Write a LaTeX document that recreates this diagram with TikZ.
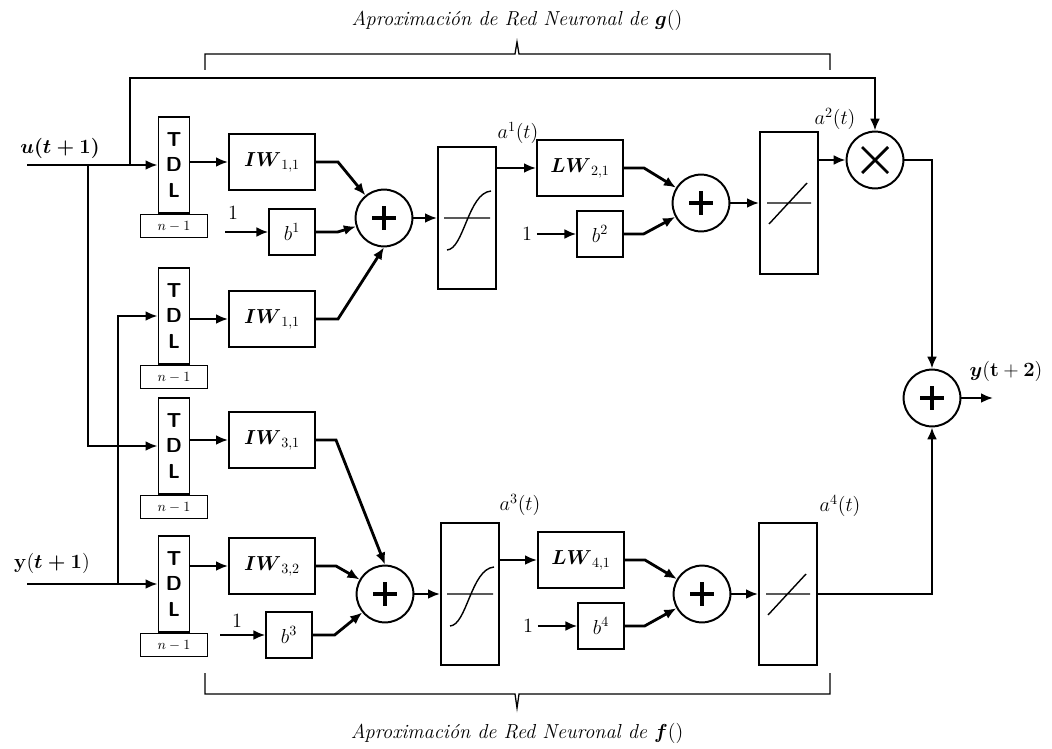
\documentclass[tikz,border=0pt]{standalone}
\usepackage{amsmath,amssymb}
\usepackage{tikz}
\usetikzlibrary{arrows.meta,positioning}

\begin{document}
\begin{tikzpicture}[x=0.025cm,y=-0.025cm,
  tdl/.style={rectangle,draw,line width=1.4pt,minimum width=0.775cm,minimum height=2.4cm,inner sep=0pt,align=center,font=\Large\sffamily\bfseries},
  delay/.style={rectangle,draw,line width=0.9pt,minimum width=1.675cm,minimum height=0.575cm,inner sep=0pt,font=\normalsize},
  wbox/.style={rectangle,draw,line width=1.4pt,minimum width=2.15cm,minimum height=1.4cm,inner sep=0pt,font=\Large},
  bbox/.style={rectangle,draw,line width=1.4pt,minimum size=1.13cm,inner sep=0pt,font=\Large},
  actbox/.style={rectangle,draw,line width=1.4pt,minimum width=1.45cm,minimum height=3.55cm,inner sep=0pt},
  sigm/.style={actbox,path picture={\draw[line width=1pt,shift={(path picture bounding box.center)}] (-23,0) -- (23,0) (-20,32) .. controls (-3,31) and (1,-25) .. (24,-27);}},
  linr/.style={actbox,path picture={\draw[line width=1pt,shift={(path picture bounding box.center)}] (-22,0) -- (22,0) (-20,21) -- (18,-20);}},
  sumnode/.style={circle,draw,line width=1.4pt,minimum size=1.42cm,inner sep=0pt,path picture={\draw[line width=2.6pt,shift={(path picture bounding box.center)}] (-12,0) -- (12,0) (0,-12) -- (0,12);}},
  mulnode/.style={circle,draw,line width=1.4pt,minimum size=1.42cm,inner sep=0pt,path picture={\draw[line width=2pt,shift={(path picture bounding box.center)}] (-13,-13) -- (13,13) (-13,13) -- (13,-13);}},
  arr/.style={-{Latex[length=3mm,width=2.5mm]},line width=2pt},
  brc/.style={line width=0.9pt},
  lbl/.style={font=\Large},
  ttl/.style={font=\Large\itshape}]
  \useasboundingbox (0,0) rectangle (1052,749);

  \node[tdl] (tdl1) at (174,165) {T\\D\\L};
  \node[delay,below=0pt of tdl1] (dly1) {$n-1$};
  \node[tdl] (tdl2) at (174,316) {T\\D\\L};
  \node[delay,below=0pt of tdl2] (dly2) {$n-1$};
  \node[tdl] (tdl3) at (174,446) {T\\D\\L};
  \node[delay,below=0pt of tdl3] (dly3) {$n-1$};
  \node[tdl] (tdl4) at (174,584) {T\\D\\L};
  \node[delay,below=0pt of tdl4] (dly4) {$n-1$};

  \node[wbox] (iw11a) at (272,162) {$\boldsymbol{IW}_{1,1}$};
  \node[bbox] (b1)    at (292,232) {$b^1$};
  \node[wbox] (iw11b) at (272,319) {$\boldsymbol{IW}_{1,1}$};
  \node[wbox] (iw31)  at (272,440) {$\boldsymbol{IW}_{3,1}$};
  \node[wbox] (iw32)  at (272,566) {$\boldsymbol{IW}_{3,2}$};
  \node[bbox] (b3)    at (289,635) {$b^3$};

  \node[sumnode] (sum1) at (384,218) {};
  \node[sigm]    (sig1) at (467,218) {};
  \node[wbox]    (lw21) at (580,168) {$\boldsymbol{LW}_{2,1}$};
  \node[bbox]    (b2)   at (600,234) {$b^2$};
  \node[sumnode] (sum2) at (701,203) {};
  \node[linr]    (lin1) at (789,203) {};
  \node[mulnode] (mul)  at (875,160) {};

  \node[sumnode] (sum3) at (385,594) {};
  \node[sigm]    (sig2) at (470,594) {};
  \node[wbox]    (lw41) at (581,560) {$\boldsymbol{LW}_{4,1}$};
  \node[bbox]    (b4)   at (601,626) {$b^4$};
  \node[sumnode] (sum4) at (702,594) {};
  \node[linr]    (lin2) at (788,594) {};

  \node[sumnode] (sumo) at (932,398) {};

  \coordinate (uin) at (27,165);
  \coordinate (yin) at (27,584);
  \coordinate (j0) at (130,165);
  \coordinate (j1) at (88,165);
  \coordinate (j2) at (118,584);
  \coordinate (ftop) at (130,78);
  \coordinate (yout) at (993,398);
  \coordinate (c1) at (225,232);
  \coordinate (c3) at (220,635);

  \node[lbl] (ulab)  at (60,148)   {$\boldsymbol{u(t+1)}$};
  \node[lbl] (ylab)  at (52,563)   {$\mathbf{y}(\boldsymbol{t+1})$};
  \node[lbl] (yolab) at (1006,371) {$\boldsymbol{y}(\mathbf{t+2})$};
  \node[lbl] (a1lab) at (518,133)  {$a^1(t)$};
  \node[lbl] (a2lab) at (835,119)  {$a^2(t)$};
  \node[lbl] (a3lab) at (520,505)  {$a^3(t)$};
  \node[lbl] (a4lab) at (840,506)  {$a^4(t)$};
  \node[lbl] (one1)  at (233,213)  {$1$};
  \node[lbl] (one2)  at (527,234)  {$1$};
  \node[lbl] (one3)  at (237,621)  {$1$};
  \node[lbl] (one4)  at (528,626)  {$1$};

  \draw[arr] (uin) -- (uin -| tdl1.west);
  \draw[arr] (j1) |- (tdl3.west);
  \draw[arr] (yin) -- (yin -| tdl4.west);
  \draw[arr] (j2) |- (tdl2.west);
  \draw[arr] (j0) -- (ftop) -| (mul.north);

  \draw[arr] (tdl1.east |- iw11a) -- (iw11a);
  \draw[arr] (tdl2.east |- iw11b) -- (iw11b);
  \draw[arr] (tdl3.east |- iw31) -- (iw31);
  \draw[arr] (tdl4.east |- iw32) -- (iw32);
  \draw[arr] (c1) -- (b1);
  \draw[arr] (c3) -- (b3);

  \draw[arr] (iw11a.east) -- ++(22,0) -- (sum1);
  \draw[arr] (b1.east) -- ++(22,0) -- (sum1);
  \draw[arr] (iw11b.east) -- ++(22,0) -- (sum1.south);
  \draw[arr] (sum1) -- (sig1);
  \draw[arr] (sig1.east |- lw21) -- (lw21);
  \draw[arr] (one2) -- (b2);
  \draw[arr] (lw21.east) -- ++(20,0) -- (sum2);
  \draw[arr] (b2.east) -- ++(20,0) -- (sum2);
  \draw[arr] (sum2) -- (lin1);
  \draw[arr] (lin1.east |- mul) -- (mul);
  \draw[arr] (mul.east) -| (sumo.north);

  \draw[arr] (iw31.east) -- ++(20,0) -- (sum3.north);
  \draw[arr] (iw32.east) -- ++(20,0) -- (sum3);
  \draw[arr] (b3.east) -- ++(22,0) -- (sum3);
  \draw[arr] (sum3) -- (sig2);
  \draw[arr] (sig2.east |- lw41) -- (lw41);
  \draw[arr] (one4) -- (b4);
  \draw[arr] (lw41.east) -- ++(20,0) -- (sum4);
  \draw[arr] (b4.east) -- ++(20,0) -- (sum4);
  \draw[arr] (sum4) -- (lin2);
  \draw[arr] (lin2.east) -| (sumo.south);
  \draw[arr] (sumo) -- (yout);

  \draw[brc] (205,70) -- (205,54) -- (515,54) -- (517,42) -- (519,54) -- (830,54) -- (830,70);
  \draw[brc] (205,673) -- (205,694) -- (515,694) -- (517,708) -- (519,694) -- (830,694) -- (830,673);
  \node[ttl] (ttop) at (517,20)  {Aproximación de Red Neuronal de $\boldsymbol{g}()$};
  \node[ttl] (tbot) at (517,733) {Aproximación de Red Neuronal de $\boldsymbol{f}()$};
\end{tikzpicture}
\end{document}
